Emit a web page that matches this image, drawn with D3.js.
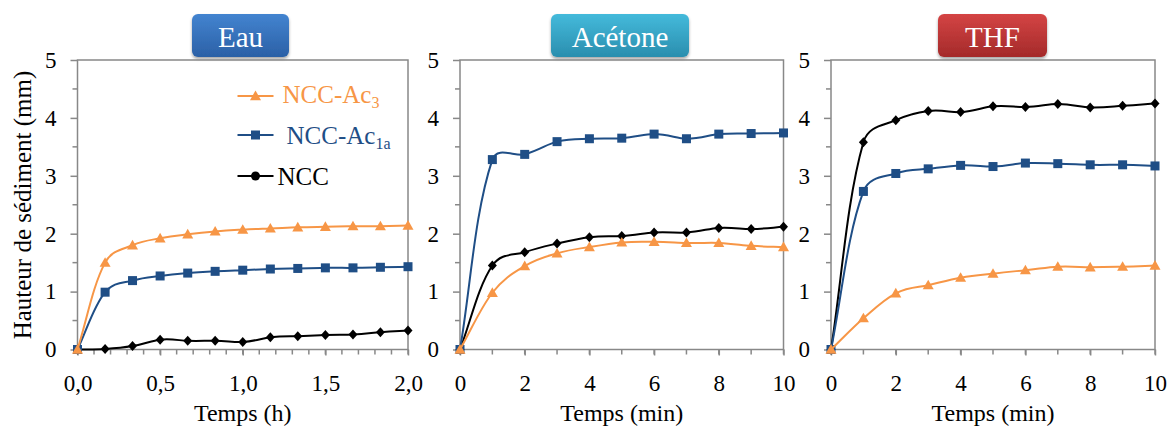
<!DOCTYPE html>
<html><head><meta charset="utf-8">
<script src="https://cdn.jsdelivr.net/npm/d3@7"></script>
<style>body{margin:0;background:#fff}svg{display:block}svg text{font-family:"Liberation Serif","Times New Roman",serif !important;font-weight:normal}</style>
</head><body>
<script>
// ---- data ----
const seriesNames = ["NCC", "NCC-Ac1a", "NCC-Ac3"];
const panelTitles = ["Eau", "Acétone", "THF"];
const xTitles = ["Temps (h)", "Temps (min)", "Temps (min)"];
const eauTime = [0, 0.167, 0.333, 0.5, 0.667, 0.833, 1.0, 1.167, 1.333, 1.5, 1.667, 1.833, 2.0];
const eauNCC   = [0, 0.01, 0.06, 0.17, 0.15, 0.15, 0.13, 0.21, 0.23, 0.25, 0.26, 0.30, 0.33];
const eauAc1a  = [0, 0.99, 1.19, 1.27, 1.32, 1.35, 1.37, 1.39, 1.40, 1.41, 1.41, 1.42, 1.43];
const eauAc3   = [0, 1.50, 1.80, 1.92, 1.99, 2.04, 2.07, 2.09, 2.11, 2.12, 2.13, 2.13, 2.14];
const minTime = [0, 1, 2, 3, 4, 5, 6, 7, 8, 9, 10];
const acNCC   = [0, 1.45, 1.68, 1.83, 1.94, 1.96, 2.02, 2.02, 2.10, 2.08, 2.12];
const acAc1a  = [0, 3.28, 3.37, 3.59, 3.64, 3.65, 3.72, 3.64, 3.72, 3.73, 3.74];
const acAc3   = [0, 0.98, 1.44, 1.66, 1.77, 1.85, 1.86, 1.84, 1.84, 1.79, 1.77];
const thfNCC  = [0, 3.58, 3.96, 4.12, 4.10, 4.20, 4.19, 4.24, 4.18, 4.21, 4.25];
const thfAc1a = [0, 2.73, 3.04, 3.12, 3.18, 3.16, 3.22, 3.21, 3.19, 3.19, 3.17];
const thfAc3  = [0, 0.54, 0.97, 1.11, 1.24, 1.31, 1.37, 1.43, 1.42, 1.43, 1.45];
const yTicks = [0, 1, 2, 3, 4, 5];
const eauXTicks = [0, 0.5, 1.0, 1.5, 2.0];
const minXTicks = [0, 2, 4, 6, 8, 10];

// ---- styling / layout ----
const W = 1169, H = 428;
const colors = {"NCC": "#000000", "NCC-Ac1a": "#1f4e86", "NCC-Ac3": "#f79646"};
const shapes = {"NCC": "diamond", "NCC-Ac1a": "square", "NCC-Ac3": "triangle"};
const badgeCols = [["#4384d0", "#2b60a6"], ["#44badb", "#2a8eae"], ["#d44444", "#a42a2a"]];
const panels = [
  {l: 77.5, r: 408, xDom: [0, 2], time: eauTime, data: [eauNCC, eauAc1a, eauAc3], ticks: eauXTicks, minor: 0.1, fmt: d => d3.format(".1f")(d).replace(".", ","), badge: [192, 289]},
  {l: 460, r: 783.5, xDom: [0, 10], time: minTime, data: [acNCC, acAc1a, acAc3], ticks: minXTicks, minor: 1, fmt: d => d, badge: [551, 689]},
  {l: 831, r: 1155, xDom: [0, 10], time: minTime, data: [thfNCC, thfAc1a, thfAc3], ticks: minXTicks, minor: 1, fmt: d => d, badge: [938, 1047]}
];
const plotTop = 60, plotBottom = 349.5;
const font = "Liberation Serif";
const axisCol = "#888888";

// spreadsheet-style smooth curve (distance-weighted Catmull-Rom)
function curveSmooth(context) {
  return {
    areaStart() {}, areaEnd() {},
    lineStart() { this.pts = []; },
    point(x, y) { this.pts.push([+x, +y]); },
    lineEnd() {
      const p = this.pts, n = p.length, c = context, t = 0.5;
      if (!n) return;
      c.moveTo(p[0][0], p[0][1]);
      if (n === 2) { c.lineTo(p[1][0], p[1][1]); return; }
      const before = [], after = [];
      for (let i = 1; i < n - 1; i++) {
        const d01 = Math.hypot(p[i][0] - p[i-1][0], p[i][1] - p[i-1][1]);
        const d12 = Math.hypot(p[i+1][0] - p[i][0], p[i+1][1] - p[i][1]);
        const s = d01 + d12 || 1;
        const dx = p[i+1][0] - p[i-1][0], dy = p[i+1][1] - p[i-1][1];
        const len = Math.hypot(dx, dy) || 1;
        // handle lengths limited to a fraction of the adjacent segment
        const ha = Math.min(t * d01 / s * len, d01 * 0.3), hb = Math.min(t * d12 / s * len, d12 * 0.45);
        before[i] = [p[i][0] - ha * dx / len, p[i][1] - ha * dy / len];
        after[i] = [p[i][0] + hb * dx / len, p[i][1] + hb * dy / len];
      }
      for (let i = 0; i < n - 1; i++) {
        const c1 = i === 0 ? [p[0][0] + (p[1][0] - p[0][0]) / 3, p[0][1] + (p[1][1] - p[0][1]) / 3] : after[i];
        const c2 = i === n - 2 ? [p[n-1][0] - (p[n-1][0] - p[n-2][0]) / 3, p[n-1][1] - (p[n-1][1] - p[n-2][1]) / 3] : before[i+1];
        c.bezierCurveTo(c1[0], c1[1], c2[0], c2[1], p[i+1][0], p[i+1][1]);
      }
    }
  };
}

const svg = d3.select("body").append("svg").attr("width", W).attr("height", H);
const defs = svg.append("defs");
const f = defs.append("filter").attr("id", "sh").attr("x", "-20%").attr("y", "-20%").attr("width", "140%").attr("height", "160%");
f.append("feDropShadow").attr("dx", 0).attr("dy", 2).attr("stdDeviation", 1.8).attr("flood-color", "#000").attr("flood-opacity", 0.35);
badgeCols.forEach((c, i) => {
  const g = defs.append("linearGradient").attr("id", "bg" + i).attr("x1", 0).attr("y1", 0).attr("x2", 0).attr("y2", 1);
  g.append("stop").attr("offset", "0%").attr("stop-color", c[0]);
  g.append("stop").attr("offset", "100%").attr("stop-color", c[1]);
});

function marker(sel, shape, cx, cy, color) {
  if (shape === "triangle") {
    const s = 5.5;
    sel.append("path").attr("d", `M${cx},${cy - s}L${cx + s},${cy + s * 0.75}L${cx - s},${cy + s * 0.75}Z`).attr("fill", color);
  } else if (shape === "square") {
    sel.append("rect").attr("x", cx - 4.5).attr("y", cy - 4.5).attr("width", 9).attr("height", 9).attr("fill", color);
  } else if (shape === "diamond") {
    sel.append("path").attr("d", `M${cx},${cy - 5}L${cx + 4.5},${cy}L${cx},${cy + 5}L${cx - 4.5},${cy}Z`).attr("fill", color);
  } else {
    sel.append("circle").attr("cx", cx).attr("cy", cy).attr("r", 4.5).attr("fill", color);
  }
}

const y = d3.scaleLinear().domain([0, 5]).range([plotBottom, plotTop]);

panels.forEach((p, pi) => {
  const x = d3.scaleLinear().domain(p.xDom).range([p.l, p.r]);
  const g = svg.append("g");
  // badge
  g.append("rect").attr("x", p.badge[0]).attr("y", 14).attr("width", p.badge[1] - p.badge[0]).attr("height", 43)
    .attr("rx", 6).attr("fill", `url(#bg${pi})`).attr("filter", "url(#sh)");
  g.append("text").attr("x", (p.badge[0] + p.badge[1]) / 2).attr("y", 46.5).attr("text-anchor", "middle")
    .attr("font-family", font).attr("font-size", 29).attr("fill", "#fff").text(panelTitles[pi]);

  // minor y ticks
  const minorY = d3.range(0.5, 5, 1);
  g.selectAll(".my").data(minorY).join("line").attr("x1", p.l - 5).attr("x2", p.l).attr("y1", d => y(d)).attr("y2", d => y(d))
    .attr("stroke", axisCol).attr("stroke-width", 1.5);
  // y axis
  const ya = g.append("g").attr("transform", `translate(${p.l},0)`)
    .call(d3.axisLeft(y).tickValues(yTicks).tickSize(7).tickPadding(14).tickFormat(d => d));
  ya.attr("font-family", font);
  ya.select(".domain").remove();
  ya.selectAll("line").attr("stroke", axisCol).attr("stroke-width", 1.5);
  ya.selectAll("text").attr("font-size", 23).attr("fill", "#000");

  // minor x ticks
  const nMinor = Math.round((p.xDom[1] - p.xDom[0]) / p.minor);
  const minorX = d3.range(0, nMinor + 1).map(i => p.xDom[0] + i * p.minor);
  g.selectAll(".mx").data(minorX).join("line").attr("x1", d => x(d)).attr("x2", d => x(d)).attr("y1", plotBottom).attr("y2", plotBottom + 5)
    .attr("stroke", axisCol).attr("stroke-width", 1.5);
  const xa = g.append("g").attr("transform", `translate(0,${plotBottom})`)
    .call(d3.axisBottom(x).tickValues(p.ticks).tickSize(6).tickPadding(19).tickFormat(p.fmt));
  xa.attr("font-family", font);
  xa.select(".domain").remove();
  xa.selectAll("line").attr("stroke", axisCol).attr("stroke-width", 1.5);
  xa.selectAll("text").attr("font-size", 23).attr("fill", "#000");

  // box
  g.append("rect").attr("x", p.l).attr("y", plotTop).attr("width", p.r - p.l).attr("height", plotBottom - plotTop)
    .attr("fill", "none").attr("stroke", axisCol).attr("stroke-width", 1.5);

  // x title
  g.append("text").attr("x", (p.l + p.r) / 2).attr("y", 421).attr("text-anchor", "middle")
    .attr("font-family", font).attr("font-size", 24).attr("fill", "#000").text(xTitles[pi]);

  // series
  const line = d3.line().x(d => x(d[0])).y(d => y(d[1])).curve(curveSmooth);
  seriesNames.forEach((s, si) => {
    const pts = p.time.map((t, i) => [t, p.data[si][i]]);
    g.append("path").attr("d", line(pts)).attr("fill", "none").attr("stroke", colors[s]).attr("stroke-width", 2);
    const mg = g.append("g");
    pts.forEach(d => marker(mg, shapes[s], x(d[0]), y(d[1]), colors[s]));
  });
});

// y title
svg.append("text").attr("transform", "translate(31,205) rotate(-90)").attr("text-anchor", "middle")
  .attr("font-family", font).attr("font-size", 25).attr("fill", "#000").text("Hauteur de sédiment (mm)");

// legend (panel 1)
const legend = [
  {name: "NCC-Ac3", base: "NCC-Ac", sub: "3", y: 96, tx: 282.5, shape: "triangle", bl: 103},
  {name: "NCC-Ac1a", base: "NCC-Ac", sub: "1a", y: 135, tx: 286.5, shape: "square", bl: 144},
  {name: "NCC", base: "NCC", sub: "", y: 176, tx: 277.5, shape: "circle", bl: 184.5}
];
const lg = svg.append("g");
legend.forEach(it => {
  const c = colors[it.name];
  lg.append("line").attr("x1", 237.5).attr("x2", 273.5).attr("y1", it.y).attr("y2", it.y).attr("stroke", c).attr("stroke-width", 2);
  marker(lg, it.shape, 255.5, it.y, c);
  const t = lg.append("text").attr("x", it.tx).attr("y", it.bl).attr("font-family", font).attr("font-size", 25).attr("fill", c);
  t.append("tspan").text(it.base);
  if (it.sub) t.append("tspan").attr("dy", 5).attr("font-size", 16).text(it.sub);
});
</script>
</body></html>
